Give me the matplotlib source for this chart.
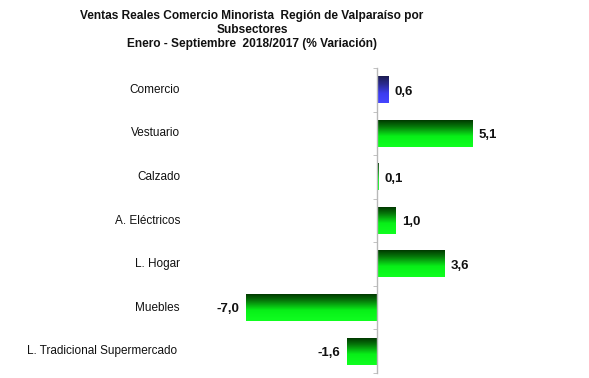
import matplotlib
matplotlib.use("Agg")
import matplotlib.pyplot as plt
import numpy as np
from matplotlib.colors import LinearSegmentedColormap
from matplotlib.transforms import blended_transform_factory

categories = ["Comercio", "Vestuario", "Calzado", "A. Eléctricos", "L. Hogar",
              "Muebles", "L. Tradicional Supermercado"]
values = [0.6, 5.1, 0.1, 1.0, 3.6, -7.0, -1.6]
value_labels = ["0,6", "5,1", "0,1", "1,0", "3,6", "-7,0", "-1,6"]
title = ("Ventas Reales Comercio Minorista  Región de Valparaíso por\n"
         "Subsectores\nEnero - Septiembre  2018/2017 (% Variación)")

plt.rcParams['font.family'] = ['Liberation Sans', 'DejaVu Sans']

fig = plt.figure(figsize=(5.89, 3.78), dpi=100)
W, H = 589, 378
ax = fig.add_axes([200 / W, 1 - 373 / H, 360 / W, (373 - 68) / H])

green_cmap = LinearSegmentedColormap.from_list(
    "g", [(0.0, "#003800"), (0.25, "#067a0a"), (0.6, "#08f018"), (1.0, "#10ff20")])
blue_cmap = LinearSegmentedColormap.from_list(
    "b", [(0.0, "#1c1c50"), (0.3, "#2a2a90"), (0.65, "#3c3cf0"), (1.0, "#4545ff")])

y = np.arange(len(categories))
bars = ax.barh(y, values, height=0.61, color="none", edgecolor="none")

grad = np.linspace(0, 1, 256).reshape(-1, 1)
for i, bar in enumerate(bars):
    x0, yb = bar.get_x(), bar.get_y()
    w, h = bar.get_width(), bar.get_height()
    cmap = blue_cmap if i == 0 else green_cmap
    ax.imshow(grad, cmap=cmap, aspect="auto", interpolation="bilinear",
              extent=[x0, x0 + w, yb + h, yb], origin="upper", zorder=2)

ax.set_xlim((200 - 377) / 18.7, (560 - 377) / 18.7)
ax.set_ylim(len(categories) - 0.5, -0.5)

for s in ["top", "right", "bottom"]:
    ax.spines[s].set_visible(False)
ax.spines["left"].set_position(("data", 0))
ax.spines["left"].set_color("#b8b8b8")
ax.spines["left"].set_linewidth(1.0)
ax.spines["left"].set_zorder(3)
ax.set_xticks([])
ax.set_yticks([])
ax.set_yticks(np.arange(-0.5, len(categories)), minor=True)
ax.tick_params(axis="y", which="minor", length=3, color="#b8b8b8", direction="out",
               labelleft=False)

trans = blended_transform_factory(ax.transAxes, ax.transData)
for i, cat in enumerate(categories):
    dx = -23 / 360 if i == len(categories) - 1 else -20 / 360
    ax.text(dx, i, cat, transform=trans, ha="right", va="center",
            fontsize=8.5, color="#111111")

for i, (v, lab) in enumerate(zip(values, value_labels)):
    off = 6 / 18.7 if v >= 0 else -7 / 18.7
    ax.text(v + off, i + 0.04, lab, ha="left" if v >= 0 else "right", va="center",
            fontsize=9.5, fontweight="bold", color="#111111")

fig.text(252 / W, 1 - 10.5 / H, title, ha="center", va="top", fontsize=8.6,
         fontweight="bold", linespacing=1.2, color="#111111")

fig.savefig("out.png", dpi=100)
